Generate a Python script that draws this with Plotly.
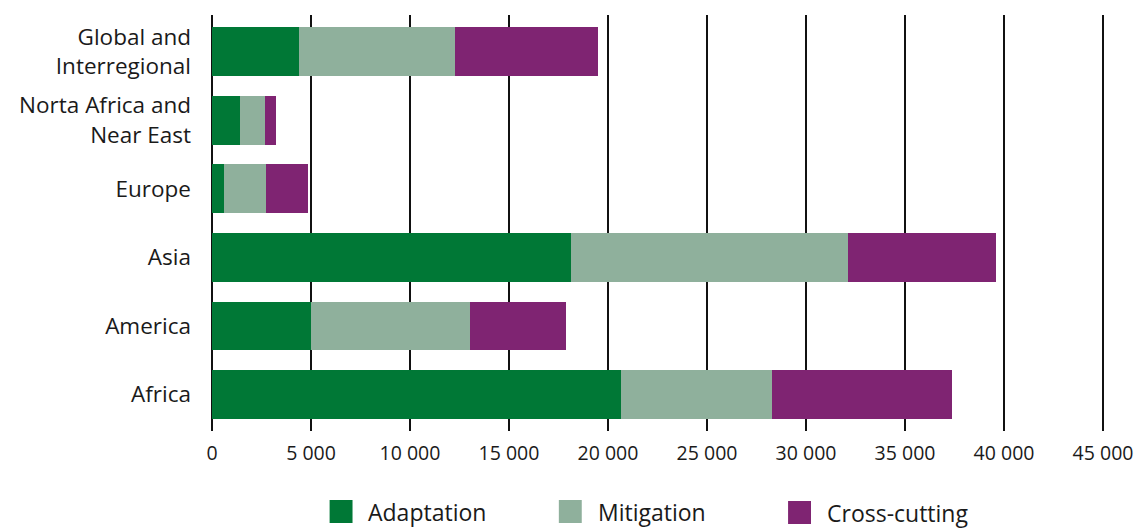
import plotly.graph_objects as go

# Regions listed bottom-to-top as they appear on the y axis
regions = ["Africa", "America", "Asia", "Europe",
           "Norta Africa and<br>Near East", "Global and<br>Interregional"]

adaptation = [20640, 4990, 18130, 600, 1410, 4380]
mitigation = [7660, 8050, 14000, 2120, 1260, 7900]
cross_cutting = [9060, 4830, 7450, 2120, 550, 7200]

series_names = ["Adaptation", "Mitigation", "Cross-cutting"]
series_values = [adaptation, mitigation, cross_cutting]
series_colors = ["#007836", "#8fb09c", "#7f2472"]

tick_values = [0, 5000, 10000, 15000, 20000, 25000, 30000, 35000, 40000, 45000]
tick_labels = ["0", "5 000", "10 000", "15 000", "20 000", "25 000",
               "30 000", "35 000", "40 000", "45 000"]

FONT = "Open Sans"
W, H = 1145, 529
X_MAX = 45150  # a little beyond the last tick so its grid line is kept
M_L, M_T, M_B = 212, 15, 98
PLOT_W = round((1106 - M_L) * X_MAX / 45000)
M_R = W - M_L - PLOT_W
PLOT_H = H - M_T - M_B

fig = go.Figure()
for name, vals, col in zip(series_names, series_values, series_colors):
    fig.add_trace(go.Bar(
        y=regions, x=vals, name=name, orientation="h",
        marker=dict(color=col, line=dict(width=0)),
        showlegend=False,
    ))


def px_x(p):
    return (p - M_L) / PLOT_W


def px_y(p):
    return (H - M_B - p) / PLOT_H


# Legend: coloured squares with labels underneath the chart
legend_items = [
    (series_names[0], series_colors[0], 330, 500),
    (series_names[1], series_colors[1], 560, 500),
    (series_names[2], series_colors[2], 790, 501),
]
shapes = []
annotations = []
for name, col, x0, y0 in legend_items:
    size = 23
    shapes.append(dict(
        type="rect", xref="paper", yref="paper",
        x0=px_x(x0), x1=px_x(x0 + size),
        y0=px_y(y0 + size), y1=px_y(y0),
        fillcolor=col, line=dict(width=0),
    ))
    annotations.append(dict(
        xref="paper", yref="paper",
        x=px_x(x0 + size + 14), y=px_y(y0 + size / 2),
        text=name, showarrow=False, xanchor="left", yanchor="middle",
        font=dict(family=FONT, size=23, color="#1a1a1a"),
    ))

fig.update_layout(
    width=W, height=H,
    margin=dict(l=M_L, r=M_R, t=M_T, b=M_B),
    barmode="stack",
    bargap=0.287,
    plot_bgcolor="white",
    paper_bgcolor="white",
    font=dict(family=FONT, color="#1a1a1a"),
    shapes=shapes,
    annotations=annotations,
    xaxis=dict(
        range=[0, X_MAX],
        tickmode="array", tickvals=tick_values, ticktext=tick_labels,
        showgrid=True, gridcolor="#111111", gridwidth=2,
        zeroline=True, zerolinecolor="#111111", zerolinewidth=2,
        showline=False, ticks="",
        tickfont=dict(family=FONT, size=19.5, color="#1a1a1a"),
        ticklabelstandoff=8,
        layer="below traces",
    ),
    yaxis=dict(
        categoryorder="array", categoryarray=regions,
        range=[-0.53, 5.53],
        showgrid=False, zeroline=False, showline=False, ticks="",
        tickfont=dict(family=FONT, size=22.5, color="#1a1a1a"),
        ticklabelstandoff=20,
    ),
)

fig.write_html("out.html")
